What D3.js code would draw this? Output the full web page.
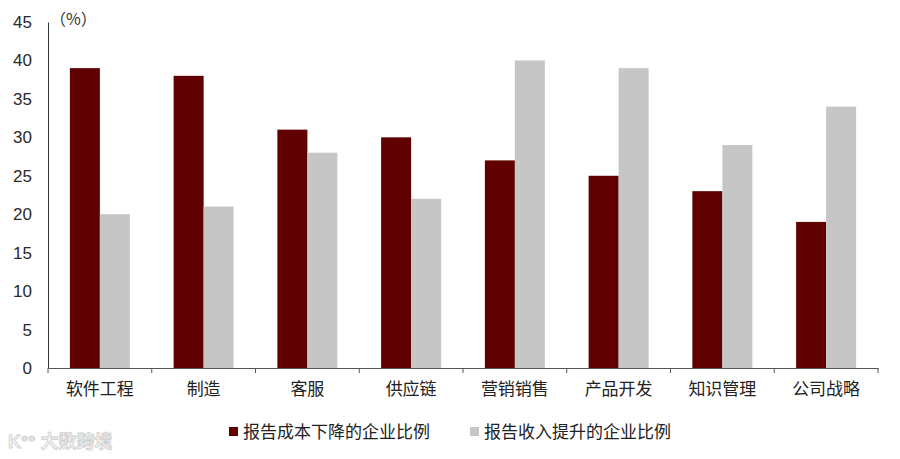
<!DOCTYPE html>
<html>
<head>
<meta charset="utf-8">
<script src="https://cdn.jsdelivr.net/npm/d3@7"></script>
<style>
  body { margin: 0; background: #fff; }
  text { font-family: "Liberation Sans", Arial, "Noto Sans CJK SC", sans-serif; }
</style>
</head>
<body>
<div id="chart"></div>
<script>
// Chart data
const categories = ['软件工程', '制造', '客服', '供应链', '营销销售', '产品开发', '知识管理', '公司战略'];
const costDown = [39, 38, 31, 30, 27, 25, 23, 19];
const revenueUp = [20, 21, 28, 22, 40, 39, 29, 34];
const seriesNames = ['报告成本下降的企业比例', '报告收入提升的企业比例'];
const yTicks = [0, 5, 10, 15, 20, 25, 30, 35, 40, 45];

const width = 900;
const height = 459;
const margin = { top: 22, right: 22, bottom: 91, left: 48 };
const colors = ['#600000', '#c6c6c6'];

const svg = d3.select('#chart')
    .append('svg')
    .attr('width', width)
    .attr('height', height);

const x = d3.scaleBand()
    .domain(categories)
    .range([margin.left, width - margin.right])
    .paddingInner(0)
    .paddingOuter(0);

const x1 = d3.scaleBand()
    .domain([0, 1])
    .range([x.bandwidth() / 2 - 30, x.bandwidth() / 2 + 30]);

const y = d3.scaleLinear()
    .domain([0, 45])
    .range([height - margin.bottom, margin.top]);

// Bars
const groups = svg.selectAll('g.group')
    .data(categories)
    .enter()
    .append('g')
    .attr('class', 'group')
    .attr('transform', d => `translate(${x(d)},0)`);

groups.selectAll('rect')
    .data((d, i) => [costDown[i], revenueUp[i]])
    .enter()
    .append('rect')
    .attr('x', (d, j) => x1(j))
    .attr('width', x1.bandwidth())
    .attr('y', d => y(d))
    .attr('height', d => y(0) - y(d))
    .attr('fill', (d, j) => colors[j]);

// Y axis
const yAxis = svg.append('g')
    .attr('transform', `translate(${margin.left},0)`)
    .call(d3.axisLeft(y).tickValues(yTicks).tickSize(0).tickPadding(16));
yAxis.select('.domain').attr('stroke', '#333');
yAxis.selectAll('text')
    .style('font-size', '17px')
    .style('fill', '#2a2a2a');

// X axis
const xAxis = svg.append('g')
    .attr('transform', `translate(0,${y(0)})`)
    .call(d3.axisBottom(x).tickSize(0).tickPadding(12));
xAxis.select('.domain').attr('stroke', '#555').attr('stroke-width', 1.2);
xAxis.selectAll('text')
    .style('font-size', '17px')
    .style('fill', '#222')
    .attr('dy', '0.9em');

// Tick marks on category boundaries
svg.append('g')
    .selectAll('line')
    .data(categories.concat(['end']))
    .enter()
    .append('line')
    .attr('x1', (d, i) => i < categories.length ? x(d) : x.range()[1])
    .attr('x2', (d, i) => i < categories.length ? x(d) : x.range()[1])
    .attr('y1', y(0))
    .attr('y2', y(0) + 5)
    .attr('stroke', '#555');

// Unit label
svg.append('text')
    .attr('x', 50)
    .attr('y', 25)
    .style('font-size', '16px')
    .style('font-family', '"Noto Sans CJK SC", sans-serif')
    .style('fill', '#333')
    .text('（%）');

// Legend
const legendPos = [229, 470];
const legend = svg.selectAll('g.legend')
    .data(seriesNames)
    .enter()
    .append('g')
    .attr('class', 'legend')
    .attr('transform', (d, i) => `translate(${legendPos[i]},427)`);

legend.append('rect')
    .attr('width', 9)
    .attr('height', 9)
    .attr('fill', (d, i) => colors[i]);

legend.append('text')
    .attr('x', 14)
    .attr('y', 5)
    .attr('dy', '0.35em')
    .style('font-size', '17px')
    .style('fill', '#222')
    .text(d => d);

// Watermark
svg.append('text')
    .attr('x', 8)
    .attr('y', 448)
    .style('font-size', '18px')
    .style('font-weight', 'bold')
    .style('fill', '#f4f4f4')
    .style('stroke', '#cfcfcf')
    .style('stroke-width', 0.8)
    .text('K°° 大数跨境');
</script>
</body>
</html>
